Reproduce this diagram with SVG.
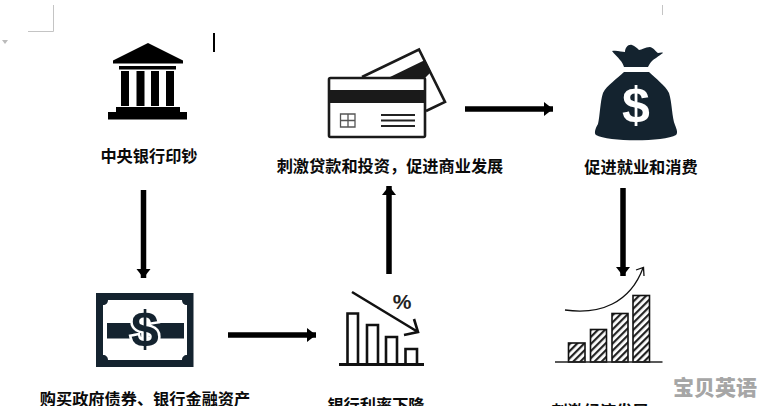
<svg xmlns="http://www.w3.org/2000/svg" width="761" height="406" viewBox="0 0 761 406">
<style>
.t{font-family:"Noto Sans CJK SC","Liberation Serif",serif;font-size:16.2px;font-weight:700;fill:#0a0a0a;text-anchor:middle}
.c{stroke:#000;stroke-width:5.500;fill:none;marker-end:url(#ah)}
.navy{fill:#14232f}
.k{fill:none;stroke:#111;stroke-width:2.6}
.h{fill:url(#hatch);stroke:#111;stroke-width:1.6}
.d{font-family:"Liberation Sans",sans-serif;font-size:50px;font-weight:700;text-anchor:middle}
</style>
<defs>
<marker id="ah" markerUnits="userSpaceOnUse" markerWidth="10" markerHeight="15" refX="9" refY="7.500" orient="auto"><path d="M0 0.500L9 7.500L0 14.500Z" fill="#000"/></marker>
<pattern id="hatch" width="5" height="5" patternUnits="userSpaceOnUse" patternTransform="rotate(-45)"><rect width="5" height="5" fill="#fff"/><rect width="5" height="2.200" fill="#222"/></pattern>
</defs>
<rect width="761" height="406" fill="#fff"/>
<g id="page-marks" fill="none" stroke="#c4c4c4">
<path d="M28 31.500H53.500V5"/>
<path d="M662.500 5V15"/>
<path d="M2 40H8L5 44Z" fill="#bbb" stroke="none"/>
</g>
<path id="cursor" d="M214 33V52" stroke="#000" stroke-width="2"/>
<g id="connectors">
<path class="c" d="M143.500 190V278"/>
<path class="c" d="M228 335H316"/>
<path class="c" d="M389 274V186"/>
<path class="c" d="M465 109H553"/>
<path class="c" d="M623 188V276"/>
</g>
<g id="node-bank">
<path d="M113 60.500L148 43L183 60.500V63.500H113Z" fill="#000"/>
<rect x="119" y="66" width="57" height="3.500" fill="#000"/>
<rect x="121" y="71" width="8" height="35" fill="#000"/>
<rect x="136.500" y="71" width="8" height="35" fill="#000"/>
<rect x="151" y="71" width="8" height="35" fill="#000"/>
<rect x="166" y="71" width="8" height="35" fill="#000"/>
<path d="M116 107H180V112H187V119.500H108V112H116Z" fill="#000"/>
<text class="t" x="149" y="162">中央银行印钞</text>
</g>
<g id="node-cards">
<path d="M362 77L419 49.500L445 102L426 111" fill="none" stroke="#1a1a1a" stroke-width="2.600"/>
<path d="M390 77L425 60L431 72L425 78Z" fill="#1a1a1a"/>
<rect x="329" y="78" width="96" height="59" rx="1.500" fill="#fff" stroke="#1a1a1a" stroke-width="2.600"/>
<rect x="329" y="90" width="96" height="13" fill="#1a1a1a"/>
<path d="M340.500 114H355V127H340.500ZM348 114V127M340.500 120.500H355" fill="none" stroke="#555" stroke-width="1.300"/>
<path d="M381 115H415M381 120.500H415M381 126H415" fill="none" stroke="#222" stroke-width="2"/>
<text class="t" x="390" y="172">刺激贷款和投资，促进商业发展</text>
</g>
<g id="node-bag">
<path class="navy" d="M612 51C617 50 622 52 625 52C625 48 628 44 632 45C635 46 637 48 639 50C642 50 645 47 650 47C654 48 656 52 658 53C660 53 662 52 663 53C659 56 654 59 652 61C650 63 649 65 648 67H624C623 64 622 62 620 60C618 57 614 54 612 51Z"/>
<path class="navy" d="M624 72H649C656 79 665 85 669 93C672 102 672 118 675 125C677 130 678 133 676 135C664 142 608 142 596 135C594 133 595 129 598 124C600 116 600 102 603 93C607 85 617 79 624 72Z"/>
<text class="d" x="636" y="122" fill="#fff">$</text>
<text class="t" x="641" y="173">促进就业和消费</text>
</g>
<g id="node-note">
<rect x="96" y="293" width="97.500" height="74" class="navy"/>
<path d="M108 300H182C182 303 184 305 187 305V355C184 355 182 357 182 360H108C108 357 106 355 103 355V305C106 305 108 303 108 300Z" fill="#fff"/>
<rect x="107" y="323" width="77" height="15.500" class="navy"/>
<text class="d" x="145" y="346" fill="#14232f" stroke="#fff" stroke-width="5" paint-order="stroke">$</text>
<text class="t" x="145" y="405">购买政府债券、银行金融资产</text>
</g>
<g id="node-rate">
<path class="k" d="M347.500 364V313.500H358V364M367 364V325H378V364M386 364V337H397V364M405.500 364V349H417V364"/>
<path d="M339 364.500H424" stroke="#111" stroke-width="2.800" fill="none"/>
<path class="k" d="M352 292L418 332M414 319L418 332L404 335"/>
<text x="402" y="309" style="font-family:'Liberation Sans',sans-serif;font-size:21px;font-weight:700;fill:#222;text-anchor:middle">%</text>
<text class="t" x="376" y="411">银行利率下降</text>
</g>
<g id="node-growth">
<rect class="h" x="568.500" y="343" width="16.500" height="19"/>
<rect class="h" x="590.500" y="329.500" width="16" height="32.500"/>
<rect class="h" x="612" y="313.500" width="16" height="48.500"/>
<rect class="h" x="633" y="295.500" width="16.500" height="66.500"/>
<path d="M555 362H662.500" stroke="#222" stroke-width="1.600" fill="none"/>
<path d="M565 310C600 315 630 303 643 268M636 270L643.500 267.500L644 276" fill="none" stroke="#111" stroke-width="1.300"/>
<text class="t" x="600" y="417">刺激经济发展</text>
</g>
<text id="watermark" x="715" y="395" style="font-family:'Noto Sans CJK SC',sans-serif;font-size:21px;font-weight:900;fill:#a6a6a6;text-anchor:middle">宝贝英语</text>
</svg>
